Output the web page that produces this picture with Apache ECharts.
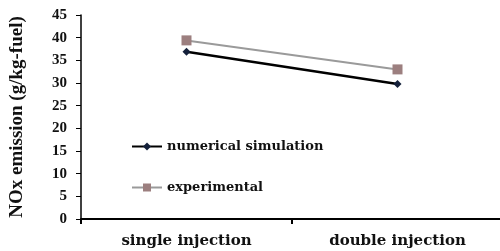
<!DOCTYPE html>
<html lang="en">
<head>
    <meta charset="UTF-8">
    <title>NOx emission</title>
    <style>
        html, body { margin: 0; padding: 0; background: #fff; }
    </style>
</head>
<body>
    <div id="chart" style="width: 500px;height:251px;"></div>
</body>
</html>
<script src="https://cdn.jsdelivr.net/npm/echarts@6/dist/echarts.min.js"></script>
<script type="text/javascript">
    const categories = ['single injection', 'double injection'];
    const numerical = [36.9, 29.8];
    const experimental = [39.4, 33.0];

    const serif = '"Liberation Serif", "DejaVu Serif", serif';
    const wide = '"DejaVu Serif", "Liberation Serif", serif';

    const chart = echarts.init(document.getElementById('chart'));

    chart.setOption({
        animation: false,
        grid: {
            left: 81,
            right: -3,
            top: 15,
            bottom: 32,
            outerBoundsMode: 'none'
        },
        legend: {
            orient: 'vertical',
            left: 126,
            top: 135,
            itemWidth: 30,
            itemHeight: 10,
            itemGap: 28,
            textStyle: {
                fontFamily: wide,
                fontWeight: 'bold',
                fontSize: 13,
                color: '#111'
            },
            data: ['numerical simulation', 'experimental']
        },
        xAxis: {
            type: 'category',
            data: categories,
            axisLine: { lineStyle: { color: '#000', width: 2 } },
            axisTick: { show: true, length: 5, lineStyle: { color: '#000', width: 2 } },
            axisLabel: {
                fontFamily: wide,
                fontWeight: 'bold',
                fontSize: 15,
                color: '#111',
                margin: 15
            }
        },
        yAxis: {
            type: 'value',
            min: 0,
            max: 45,
            interval: 5,
            name: 'NOx emission (g/kg-fuel)',
            nameLocation: 'middle',
            nameGap: 54,
            nameTextStyle: {
                fontFamily: serif,
                fontWeight: 'bold',
                fontSize: 19,
                color: '#111'
            },
            splitLine: { show: false },
            axisLine: { show: true, lineStyle: { color: '#000', width: 1.5 } },
            axisTick: { show: true, length: 5, lineStyle: { color: '#000' } },
            axisLabel: {
                fontFamily: serif,
                fontWeight: 'bold',
                fontSize: 15,
                color: '#111',
                margin: 14
            }
        },
        series: [
            {
                name: 'numerical simulation',
                type: 'line',
                data: numerical,
                symbol: 'diamond',
                symbolSize: 8,
                lineStyle: { color: '#000', width: 2.5 },
                itemStyle: { color: '#14203a' }
            },
            {
                name: 'experimental',
                type: 'line',
                data: experimental,
                symbol: 'rect',
                symbolSize: 10,
                lineStyle: { color: '#9a9a9a', width: 2 },
                itemStyle: { color: '#9c7f7f' }
            }
        ]
    });
</script>
